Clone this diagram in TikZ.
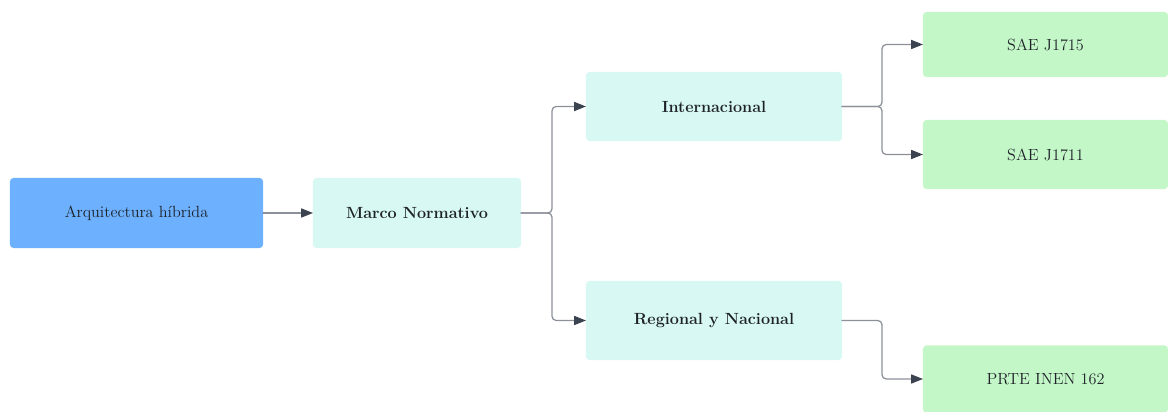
\documentclass[tikz,border=0pt]{standalone}
\usepackage{xcolor}
\usetikzlibrary{arrows.meta}
\definecolor{hybblue}{HTML}{6CB0FE}
\definecolor{normcyan}{HTML}{D7F8F3}
\definecolor{stdgreen}{HTML}{C3F7C8}
\definecolor{linegray}{HTML}{8C9099}
\definecolor{tipdark}{HTML}{3C4350}
\definecolor{txtdark}{HTML}{1E2228}

\begin{document}
\begin{tikzpicture}[x=0.025cm, y=-0.025cm, line cap=round, line join=round,
	box/.style={rectangle, rounded corners=2.5pt, inner sep=0pt, outer sep=0pt,
		text=txtdark, font=\fontsize{11.5}{14}\selectfont},
	link/.style={draw=linegray, line width=0.9pt, rounded corners=3pt,
		-{Triangle[length=8.5pt, width=6.5pt, color=tipdark]}}]
				\useasboundingbox (0,0) rectangle (1168,412);
				% boxes
				\node[box, fill=hybblue, minimum width=6.325cm, minimum height=1.75cm] (arq) at (136.5,213) {Arquitectura híbrida};
				\node[box, fill=normcyan, minimum width=5.2cm, minimum height=1.75cm, font=\fontsize{11.5}{14}\selectfont\bfseries] (marco) at (417,213) {Marco Normativo};
				\node[box, fill=normcyan, minimum width=6.4cm, minimum height=1.725cm, font=\fontsize{11.5}{14}\selectfont\bfseries] (intl) at (714,106.5) {Internacional};
				\node[box, fill=normcyan, minimum width=6.4cm, minimum height=1.975cm, font=\fontsize{11.5}{14}\selectfont\bfseries] (reg) at (714,320.5) {Regional y Nacional};
				\node[box, fill=stdgreen, minimum width=6.125cm, minimum height=1.625cm] (sae15) at (1045.5,44.5) {SAE J1715};
				\node[box, fill=stdgreen, minimum width=6.125cm, minimum height=1.725cm] (sae11) at (1045.5,154.5) {SAE J1711};
				\node[box, fill=stdgreen, minimum width=6.125cm, minimum height=1.675cm] (prte) at (1045.5,379) {PRTE INEN 162};
				% branch points
				\coordinate (jm) at (552,213);
				\coordinate (ji) at (882,106.5);
				\coordinate (jr) at (882,320.5);
				% connectors
				\draw[link] (arq) -- (marco);
				\draw[link] (marco.east) -- (jm) |- (intl.west);
				\draw[link] (marco.east) -- (jm) |- (reg.west);
				\draw[link] (intl.east) -- (ji) |- (sae15.west);
				\draw[link] (intl.east) -- (ji) |- (sae11.west);
				\draw[link] (reg.east) -- (jr) |- (prte.west);
\end{tikzpicture}
\end{document}
